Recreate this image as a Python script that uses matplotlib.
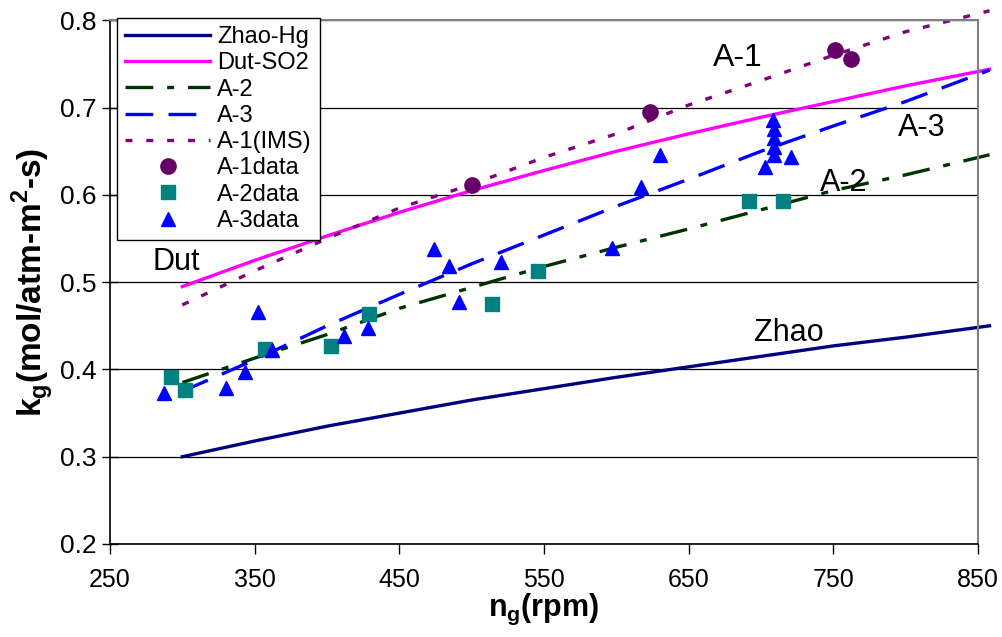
import matplotlib
matplotlib.use("Agg")
import matplotlib.pyplot as plt

plt.rcParams["font.family"] = ["Liberation Sans", "DejaVu Sans"]
plt.rcParams["mathtext.fontset"] = "custom"
plt.rcParams["mathtext.rm"] = "Liberation Sans:bold"
plt.rcParams["mathtext.bf"] = "Liberation Sans:bold"
plt.rcParams["lines.scale_dashes"] = False

# -----------------------------------------------------------------------------------
# Curvas de modelo (rpm vs kg)
rpm_fit = [300, 350, 400, 450, 500, 550, 600, 650, 700, 750, 800, 858]
zhao_hg = [0.300, 0.318, 0.335, 0.350, 0.365, 0.378, 0.391, 0.403, 0.415, 0.427, 0.437, 0.450]
dut_so2 = [0.495, 0.525, 0.553, 0.580, 0.605, 0.628, 0.650, 0.670, 0.689, 0.707, 0.725, 0.744]
a2_fit = [0.385, 0.413, 0.440, 0.470, 0.494, 0.518, 0.540, 0.561, 0.583, 0.605, 0.623, 0.646]
a3_fit = [0.375, 0.411, 0.450, 0.486, 0.521, 0.554, 0.587, 0.618, 0.650, 0.679, 0.707, 0.743]
a1_ims = [0.474, 0.513, 0.550, 0.585, 0.612, 0.643, 0.670, 0.703, 0.731, 0.760, 0.787, 0.811]

# Datos experimentales
a1_rpm = [500, 623, 751, 762]
a1_kg = [0.611, 0.695, 0.766, 0.756]
a2_rpm = [292, 302, 357, 403, 429, 514, 546, 692, 715]
a2_kg = [0.391, 0.377, 0.423, 0.427, 0.464, 0.475, 0.513, 0.593, 0.593]
a3_rpm = [287, 330, 343, 352, 362, 412, 428, 474, 484, 491, 520, 597, 617, 630,
          703, 708, 709, 709, 709, 709, 721]
a3_kg = [0.373, 0.379, 0.397, 0.466, 0.422, 0.438, 0.447, 0.538, 0.518, 0.477, 0.523,
         0.539, 0.609, 0.646, 0.632, 0.686, 0.675, 0.665, 0.655, 0.646, 0.644]

x_ticks = [250, 350, 450, 550, 650, 750, 850]
y_ticks = [0.2, 0.3, 0.4, 0.5, 0.6, 0.7, 0.8]

# -----------------------------------------------------------------------------------
fig = plt.figure(figsize=(10.03, 6.37), dpi=100)
ax = fig.add_axes([0.1097, 0.146, 0.8653, 0.822])

lw = 2.4
ax.plot(rpm_fit, zhao_hg, color="#000080", lw=lw, label="Zhao-Hg", clip_on=False)
ax.plot(rpm_fit, dut_so2, color="#FF00FF", lw=lw, label="Dut-SO2", clip_on=False)
ax.plot(rpm_fit, a2_fit, color="#003300", lw=lw, dashes=(20, 10, 5, 10),
        label="A-2", clip_on=False)
ax.plot(rpm_fit, a3_fit, color="#0000FF", lw=lw, dashes=(20, 11),
        label="A-3", clip_on=False)
ax.plot(rpm_fit, a1_ims, color="#800080", lw=lw, dashes=(5, 10),
        label="A-1(IMS)", clip_on=False)

ax.plot(a1_rpm, a1_kg, "o", color="#660066", ms=11, label="A-1data", clip_on=False)
ax.plot(a2_rpm, a2_kg, "s", color="#008080", ms=9.5, label="A-2data")
ax.plot(a3_rpm, a3_kg, "^", color="#0000FF", ms=10, label="A-3data")

# etiquetas de las curvas
ax.text(296, 0.523, "Dut", fontsize=22, ha="center", va="center")
ax.text(684, 0.757, "A-1", fontsize=23, ha="center", va="center")
ax.text(811, 0.677, "A-3", fontsize=22, ha="center", va="center")
ax.text(757, 0.614, "A-2", fontsize=22, ha="center", va="center")
ax.text(719, 0.442, "Zhao", fontsize=22, ha="center", va="center")

ax.set_xlim(250, 850)
ax.set_ylim(0.2, 0.8)
ax.set_xticks(x_ticks)
ax.set_xticklabels([str(v) for v in x_ticks], fontsize=18)
ax.set_yticks(y_ticks)
ax.set_yticklabels([f"{v:.1f}" for v in y_ticks], fontsize=19)
ax.tick_params(axis="x", direction="out", length=7, width=1, pad=10)
ax.tick_params(axis="y", direction="inout", length=12, width=1, pad=4)
ax.yaxis.grid(True, color="black", lw=0.9)
ax.set_axisbelow(True)

for side in ["top", "right"]:
    ax.spines[side].set_color("#808080")
    ax.spines[side].set_linewidth(1.5)
for side in ["left", "bottom"]:
    ax.spines[side].set_color("black")
    ax.spines[side].set_linewidth(1.2)

ax.set_xlabel(r"n$_\mathrm{g}$(rpm)", fontsize=22, fontweight="bold", labelpad=0)
ax.set_ylabel(r"k$_\mathrm{g}$(mol/atm-m$^\mathrm{2}$-s)", fontsize=24,
              fontweight="bold", labelpad=3)

leg = ax.legend(loc="upper left", bbox_to_anchor=(0.008, 1.005), borderaxespad=0,
                fontsize=17, frameon=True, fancybox=False, edgecolor="black",
                framealpha=1, handlelength=3.6, labelspacing=0.18,
                handletextpad=0.3, borderpad=0.35)
leg.get_frame().set_linewidth(1.0)

fig.savefig("out.png", dpi=100)
